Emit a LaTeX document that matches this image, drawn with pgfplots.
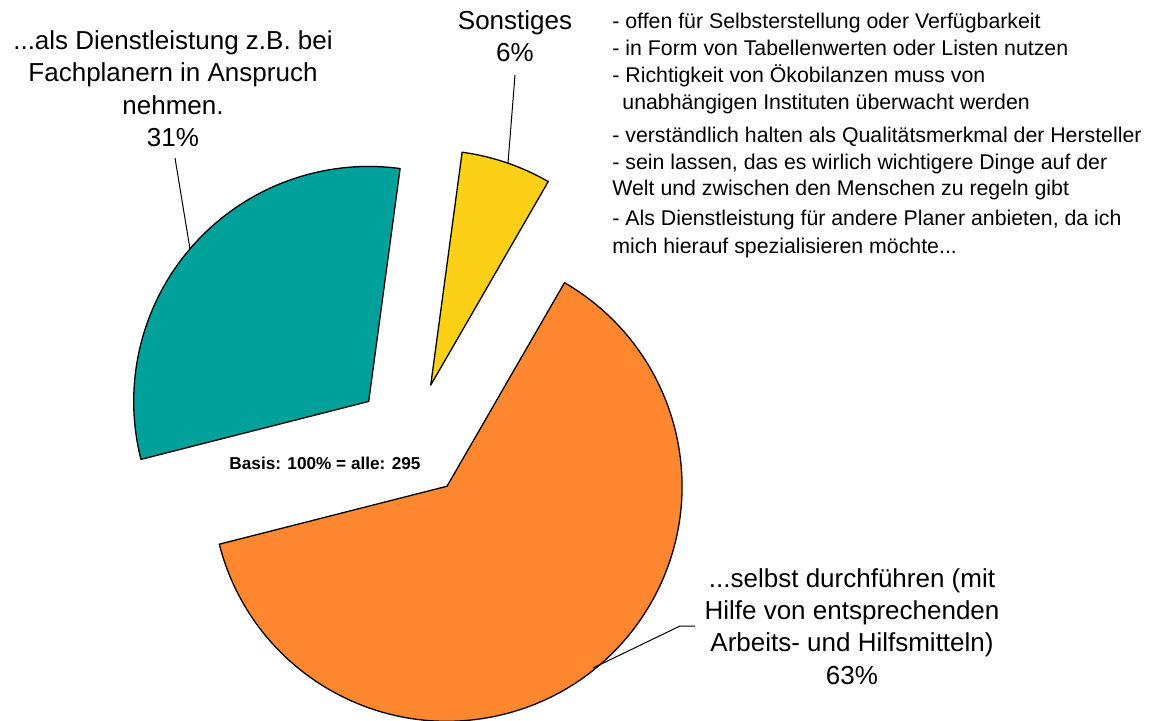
\documentclass[border=0pt]{standalone}
\usepackage{pgfplots}
\pgfplotsset{compat=1.18}
\usepackage{pgfplotstable}
\usepackage{fontspec}
\setmainfont{Liberation Sans}
\definecolor{cteal}{RGB}{0,161,154}
\definecolor{corange}{RGB}{255,135,48}
\definecolor{cyellow}{RGB}{252,208,22}

% pie values (percent), counter-clockwise from start angle
\pgfplotstableread{
label value
Sonstiges 6.2
Dienstleistung 31.1
selbst 62.7
}\piedata

\begin{document}%
\begin{tikzpicture}
\pgfplotstablegetelem{0}{value}\of\piedata \let\vA\pgfplotsretval
\pgfplotstablegetelem{1}{value}\of\piedata \let\vB\pgfplotsretval
\pgfplotstablegetelem{2}{value}\of\piedata \let\vC\pgfplotsretval
\def\startang{60}
\def\cx{412}\def\cy{280}\def\expl{58}\def\rad{117.5pt}
\pgfmathsetmacro\aA{\startang}
\pgfmathsetmacro\bA{\aA+3.6*\vA}
\pgfmathsetmacro\bB{\bA+3.6*\vB}
\pgfmathsetmacro\bC{\bB+3.6*\vC}
\pgfmathsetmacro\mA{(\aA+\bA)/2}
\pgfmathsetmacro\mB{(\bA+\bB)/2}
\pgfmathsetmacro\mC{(\bB+\bC)/2}
\pgfmathsetmacro\xA{\cx+\expl*cos(\mA)}\pgfmathsetmacro\yA{\cy+\expl*sin(\mA)}
\pgfmathsetmacro\xB{\cx+\expl*cos(\mB)}\pgfmathsetmacro\yB{\cy+\expl*sin(\mB)}
\pgfmathsetmacro\xC{\cx+\expl*cos(\mC)}\pgfmathsetmacro\yC{\cy+\expl*sin(\mC)}
\begin{axis}[
  scale only axis, width=574.5pt, height=360pt,
  xmin=0, xmax=1149, ymin=0, ymax=720,
  hide axis, clip=false,
]
\coordinate (LL) at (axis cs:0,0);
\coordinate (UR) at (axis cs:1149,720);
\fill[cyellow, draw=black, line width=0.65pt, line join=round]
  (axis cs:\xA,\yA) -- ++(\aA:\rad) arc[start angle=\aA, end angle=\bA, radius=\rad] -- cycle;
\fill[cteal, draw=black, line width=0.65pt, line join=round]
  (axis cs:\xB,\yB) -- ++(\bA:\rad) arc[start angle=\bA, end angle=\bB, radius=\rad] -- cycle;
\fill[corange, draw=black, line width=0.65pt, line join=round]
  (axis cs:\xC,\yC) -- ++(\bB:\rad) arc[start angle=\bB, end angle=\bC, radius=\rad] -- cycle;

% leader lines
\draw[black, line width=0.5pt] (axis cs:175,562) -- (axis cs:190,471);
\draw[black, line width=0.5pt] (axis cs:515,645) -- (axis cs:508,557);
\draw[black, line width=0.5pt] (axis cs:695,94) -- (axis cs:680,94) -- (axis cs:593,52);

\begin{scope}[every node/.style={anchor=base, inner sep=0pt, font=\fontsize{13}{16}\selectfont}]
\node at (axis cs:173,671) {...als Dienstleistung z.B. bei};
\node at (axis cs:173,639) {Fachplanern in Anspruch};
\node at (axis cs:173,606) {nehmen.};
\node at (axis cs:173,574) {31\%};
\node at (axis cs:515,691) {Sonstiges};
\node at (axis cs:515,659) {6\%};
\node at (axis cs:852,133) {...selbst durchführen (mit};
\node at (axis cs:852,101) {Hilfe von entsprechenden};
\node at (axis cs:852,69) {Arbeits- und Hilfsmitteln)};
\node at (axis cs:852,36) {63\%};
\end{scope}

\begin{scope}[every node/.style={anchor=base west, inner sep=0pt, font=\fontsize{10.65}{13.5}\selectfont}]
\node at (axis cs:612,692) {- offen für Selbsterstellung oder Verfügbarkeit};
\node at (axis cs:612,665) {- in Form von Tabellenwerten oder Listen nutzen};
\node at (axis cs:612,638) {- Richtigkeit von Ökobilanzen muss von};
\node at (axis cs:622,611) {unabhängigen Instituten überwacht werden};
\node at (axis cs:612,578) {- verständlich halten als Qualitätsmerkmal der Hersteller};
\node at (axis cs:612,551) {- sein lassen, das es wirlich wichtigere Dinge auf der};
\node at (axis cs:612,525) {Welt und zwischen den Menschen zu regeln gibt};
\node at (axis cs:612,495) {- Als Dienstleistung für andere Planer anbieten, da ich};
\node at (axis cs:612,467) {mich hierauf spezialisieren möchte...};
\end{scope}

\node[anchor=base, inner sep=0pt, font=\fontsize{8.6}{10}\selectfont\bfseries] at (axis cs:325,251) {Basis: 100\% = alle: 295};
\end{axis}
\pgfresetboundingbox
\path (LL) rectangle (UR);
\end{tikzpicture}%
\end{document}
